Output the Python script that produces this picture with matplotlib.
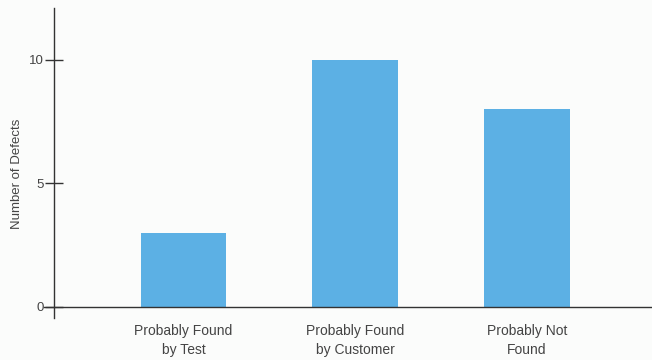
import matplotlib.pyplot as plt
import numpy as np

categories = ['Probably Found\nby Test', 'Probably Found\nby Customer', 'Probably Not\nFound']
defects = [3, 10, 8]
yticks = [0, 5, 10]

plt.rcParams['font.family'] = ['Liberation Sans Narrow', 'Liberation Sans', 'DejaVu Sans']

fig = plt.figure(figsize=(6.52, 3.6), dpi=100, facecolor='#fbfcfb')
ax = fig.add_axes([54/652, 1-318/360, 1-54/652, 310/360])
ax.set_facecolor('#fbfcfb')

x = np.arange(len(categories))
ax.bar(x, defects, width=0.5, color='#5cb0e4')

ax.set_xlim(-0.755, 2.73)
ax.set_ylim(-0.45, 12.1)

for s in ['top', 'right', 'bottom']:
    ax.spines[s].set_visible(False)
ax.spines['left'].set_color('#333333')
ax.spines['left'].set_linewidth(1.0)

# zero line reaching past the axis
ax.plot([-0.017, 1], [0, 0], color='#333333', lw=1.0,
        transform=ax.get_yaxis_transform(), clip_on=False)

ax.set_yticks(yticks)
ax.tick_params(axis='y', direction='inout', length=13, width=1.0, color='#333333',
               labelsize=9.5, labelcolor='#444444', pad=1)
ax.set_xticks(x)
ax.set_xticklabels(categories, fontsize=10, color='#444444', linespacing=1.45)
ax.tick_params(axis='x', length=0, pad=4)

ax.set_ylabel('Number of Defects', fontsize=9.5, color='#444444')
ax.yaxis.set_label_coords(-0.052, 0.465)

fig.savefig('out.png', dpi=100, facecolor=fig.get_facecolor())
